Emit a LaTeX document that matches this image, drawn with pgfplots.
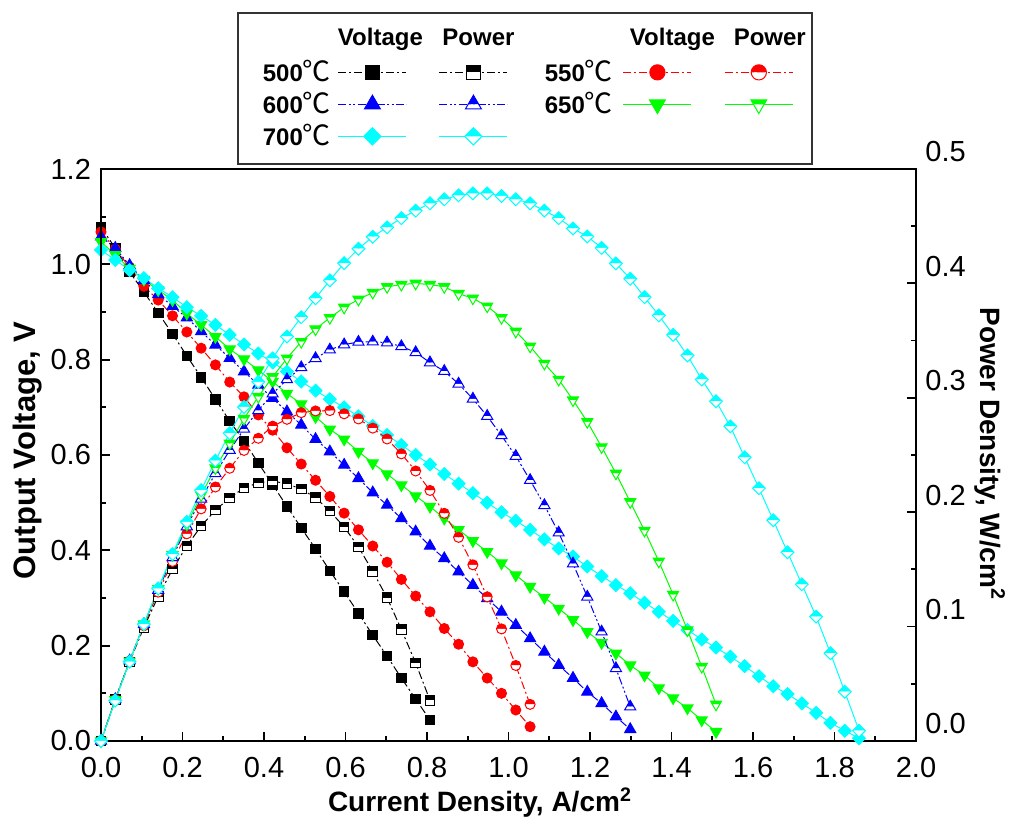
\documentclass[border=0pt]{standalone}
\usepackage{fontspec}
\setmainfont{Liberation Sans}
\newfontfamily\cjk{Noto Sans CJK SC}
\usepackage{pgfplots}
\usepackage{pgfplotstable}
\pgfplotsset{compat=1.18}

\definecolor{cR}{RGB}{255,0,0}
\definecolor{cB}{RGB}{0,0,255}
\definecolor{cG}{RGB}{0,255,0}
\definecolor{cC}{RGB}{0,255,255}

% ---------- marks ----------
\pgfdeclareplotmark{fsq}{%
  \pgfpathrectangle{\pgfqpoint{-\pgfplotmarksize}{-\pgfplotmarksize}}{\pgfqpoint{2\pgfplotmarksize}{2\pgfplotmarksize}}%
  \pgfusepathqfillstroke}
\pgfdeclareplotmark{hsq}{%
  \pgfpathrectangle{\pgfqpoint{-\pgfplotmarksize}{0pt}}{\pgfqpoint{2\pgfplotmarksize}{\pgfplotmarksize}}%
  \pgfusepathqfill
  \begin{pgfscope}\pgfsetfillcolor{white}%
  \pgfpathrectangle{\pgfqpoint{-\pgfplotmarksize}{-\pgfplotmarksize}}{\pgfqpoint{2\pgfplotmarksize}{\pgfplotmarksize}}%
  \pgfusepathqfill\end{pgfscope}%
  \pgfpathrectangle{\pgfqpoint{-\pgfplotmarksize}{-\pgfplotmarksize}}{\pgfqpoint{2\pgfplotmarksize}{2\pgfplotmarksize}}%
  \pgfusepathqstroke}
\pgfdeclareplotmark{hcirc}{%
  \pgfpathmoveto{\pgfqpoint{\pgfplotmarksize}{0pt}}%
  \pgfpatharc{0}{180}{\pgfplotmarksize}\pgfpathclose\pgfusepathqfill
  \begin{pgfscope}\pgfsetfillcolor{white}%
  \pgfpathmoveto{\pgfqpoint{\pgfplotmarksize}{0pt}}%
  \pgfpatharc{0}{-180}{\pgfplotmarksize}\pgfpathclose\pgfusepathqfill\end{pgfscope}%
  \pgfpathcircle{\pgfpointorigin}{\pgfplotmarksize}\pgfusepathqstroke}
\pgfdeclareplotmark{htri}{%
  \pgfpathmoveto{\pgfqpoint{0pt}{\pgfplotmarksize}}%
  \pgfpathlineto{\pgfqpoint{-0.577\pgfplotmarksize}{0pt}}%
  \pgfpathlineto{\pgfqpoint{0.577\pgfplotmarksize}{0pt}}%
  \pgfpathclose\pgfusepathqfill
  \begin{pgfscope}\pgfsetfillcolor{white}%
  \pgfpathmoveto{\pgfqpoint{-0.577\pgfplotmarksize}{0pt}}%
  \pgfpathlineto{\pgfqpoint{0.577\pgfplotmarksize}{0pt}}%
  \pgfpathlineto{\pgfqpoint{0.866\pgfplotmarksize}{-0.5\pgfplotmarksize}}%
  \pgfpathlineto{\pgfqpoint{-0.866\pgfplotmarksize}{-0.5\pgfplotmarksize}}%
  \pgfpathclose\pgfusepathqfill\end{pgfscope}%
  \pgfpathmoveto{\pgfqpoint{0pt}{\pgfplotmarksize}}%
  \pgfpathlineto{\pgfqpoint{-0.866\pgfplotmarksize}{-0.5\pgfplotmarksize}}%
  \pgfpathlineto{\pgfqpoint{0.866\pgfplotmarksize}{-0.5\pgfplotmarksize}}%
  \pgfpathclose\pgfusepathqstroke}
\pgfdeclareplotmark{fdtri}{%
  \pgfpathmoveto{\pgfqpoint{0pt}{-\pgfplotmarksize}}%
  \pgfpathlineto{\pgfqpoint{0.866\pgfplotmarksize}{0.5\pgfplotmarksize}}%
  \pgfpathlineto{\pgfqpoint{-0.866\pgfplotmarksize}{0.5\pgfplotmarksize}}%
  \pgfpathclose\pgfusepathqfillstroke}
\pgfdeclareplotmark{hdtri}{%
  \pgfpathmoveto{\pgfqpoint{-0.866\pgfplotmarksize}{0.5\pgfplotmarksize}}%
  \pgfpathlineto{\pgfqpoint{0.866\pgfplotmarksize}{0.5\pgfplotmarksize}}%
  \pgfpathlineto{\pgfqpoint{0.577\pgfplotmarksize}{0pt}}%
  \pgfpathlineto{\pgfqpoint{-0.577\pgfplotmarksize}{0pt}}%
  \pgfpathclose\pgfusepathqfill
  \begin{pgfscope}\pgfsetfillcolor{white}%
  \pgfpathmoveto{\pgfqpoint{-0.577\pgfplotmarksize}{0pt}}%
  \pgfpathlineto{\pgfqpoint{0.577\pgfplotmarksize}{0pt}}%
  \pgfpathlineto{\pgfqpoint{0pt}{-\pgfplotmarksize}}%
  \pgfpathclose\pgfusepathqfill\end{pgfscope}%
  \pgfpathmoveto{\pgfqpoint{0pt}{-\pgfplotmarksize}}%
  \pgfpathlineto{\pgfqpoint{0.866\pgfplotmarksize}{0.5\pgfplotmarksize}}%
  \pgfpathlineto{\pgfqpoint{-0.866\pgfplotmarksize}{0.5\pgfplotmarksize}}%
  \pgfpathclose\pgfusepathqstroke}
\pgfdeclareplotmark{fdia}{%
  \pgfpathmoveto{\pgfqpoint{0pt}{\pgfplotmarksize}}%
  \pgfpathlineto{\pgfqpoint{\pgfplotmarksize}{0pt}}%
  \pgfpathlineto{\pgfqpoint{0pt}{-\pgfplotmarksize}}%
  \pgfpathlineto{\pgfqpoint{-\pgfplotmarksize}{0pt}}%
  \pgfpathclose\pgfusepathqfillstroke}
\pgfdeclareplotmark{hdia}{%
  \pgfpathmoveto{\pgfqpoint{-\pgfplotmarksize}{0pt}}%
  \pgfpathlineto{\pgfqpoint{0pt}{\pgfplotmarksize}}%
  \pgfpathlineto{\pgfqpoint{\pgfplotmarksize}{0pt}}%
  \pgfpathclose\pgfusepathqfill
  \begin{pgfscope}\pgfsetfillcolor{white}%
  \pgfpathmoveto{\pgfqpoint{-\pgfplotmarksize}{0pt}}%
  \pgfpathlineto{\pgfqpoint{0pt}{-\pgfplotmarksize}}%
  \pgfpathlineto{\pgfqpoint{\pgfplotmarksize}{0pt}}%
  \pgfpathclose\pgfusepathqfill\end{pgfscope}%
  \pgfpathmoveto{\pgfqpoint{0pt}{\pgfplotmarksize}}%
  \pgfpathlineto{\pgfqpoint{\pgfplotmarksize}{0pt}}%
  \pgfpathlineto{\pgfqpoint{0pt}{-\pgfplotmarksize}}%
  \pgfpathlineto{\pgfqpoint{-\pgfplotmarksize}{0pt}}%
  \pgfpathclose\pgfusepathqstroke}

% ---------- data: current density x (A/cm2), voltage V (V), power P (W/cm2) ----------
\pgfplotstableread{
x V P
0 1.078 0
0.0351 1.034 0.0363
0.0702 0.984 0.0692
0.1053 0.942 0.0994
0.1404 0.898 0.1263
0.1755 0.854 0.1502
0.2106 0.808 0.1705
0.2457 0.763 0.1878
0.2808 0.717 0.2018
0.3159 0.671 0.2125
0.3510 0.629 0.2213
0.3861 0.583 0.2256
0.4212 0.538 0.2271
0.4563 0.492 0.2250
0.4914 0.447 0.2201
0.5265 0.403 0.2127
0.5616 0.357 0.2009
0.5967 0.313 0.1871
0.6318 0.268 0.1696
0.6669 0.222 0.1483
0.7020 0.178 0.1252
0.7371 0.132 0.0975
0.7722 0.088 0.0681
0.8073 0.044 0.0356
}\tA
\pgfplotstableread{
x V P
0 1.068 0
0.0351 1.032 0.0363
0.0702 0.994 0.0699
0.1053 0.954 0.1007
0.1404 0.925 0.1301
0.1755 0.892 0.1569
0.2106 0.858 0.1811
0.2457 0.824 0.2029
0.2808 0.789 0.2220
0.3159 0.753 0.2384
0.3510 0.722 0.2540
0.3861 0.684 0.2646
0.4212 0.652 0.2752
0.4563 0.615 0.2812
0.4914 0.581 0.2870
0.5265 0.547 0.2885
0.5616 0.513 0.2888
0.5967 0.478 0.2860
0.6318 0.443 0.2815
0.6669 0.409 0.2735
0.7020 0.375 0.2640
0.7371 0.339 0.2510
0.7722 0.304 0.2360
0.8073 0.271 0.2190
0.8424 0.236 0.1990
0.8775 0.203 0.1780
0.9126 0.166 0.1540
0.9477 0.132 0.1260
0.9828 0.100 0.0980
1.0179 0.065 0.0660
1.0530 0.030 0.0320
}\tB
\pgfplotstableread{
x V P
0 1.058 0
0.0351 1.034 0.0364
0.0702 0.998 0.0702
0.1053 0.967 0.1020
0.1404 0.937 0.1319
0.1755 0.912 0.1604
0.2106 0.888 0.1874
0.2457 0.859 0.2116
0.2808 0.831 0.2339
0.3159 0.803 0.2542
0.3510 0.775 0.2727
0.3861 0.747 0.2890
0.4212 0.719 0.3035
0.4563 0.691 0.3160
0.4914 0.663 0.3265
0.5265 0.633 0.3345
0.5616 0.607 0.3420
0.5967 0.579 0.3465
0.6318 0.551 0.3488
0.6669 0.521 0.3490
0.7020 0.495 0.3482
0.7371 0.467 0.3449
0.7722 0.439 0.3397
0.8073 0.409 0.3308
0.8424 0.383 0.3233
0.8775 0.355 0.3122
0.9126 0.327 0.2991
0.9477 0.299 0.2840
0.9828 0.271 0.2670
1.0179 0.243 0.2490
1.0530 0.215 0.2280
1.0881 0.187 0.2060
1.1232 0.159 0.1820
1.1583 0.132 0.1550
1.1934 0.103 0.1260
1.2285 0.079 0.0955
1.2636 0.051 0.0635
1.2987 0.0245 0.0300
}\tC
\pgfplotstableread{
x V P
0 1.047 0
0.0351 1.020 0.0359
0.0702 0.991 0.0697
0.1053 0.968 0.1021
0.1404 0.946 0.1331
0.1755 0.925 0.1627
0.2106 0.897 0.1893
0.2457 0.873 0.2150
0.2808 0.848 0.2386
0.3159 0.822 0.2602
0.3510 0.801 0.2818
0.3861 0.778 0.3010
0.4212 0.754 0.3183
0.4563 0.729 0.3345
0.4914 0.707 0.3490
0.5265 0.680 0.3600
0.5616 0.654 0.3700
0.5967 0.633 0.3790
0.6318 0.607 0.3860
0.6669 0.583 0.3920
0.7020 0.560 0.3970
0.7371 0.537 0.3990
0.7722 0.514 0.4000
0.8073 0.492 0.3990
0.8424 0.467 0.3970
0.8775 0.443 0.3910
0.9126 0.420 0.3870
0.9477 0.397 0.3800
0.9828 0.373 0.3700
1.0179 0.348 0.3580
1.0530 0.324 0.3450
1.0881 0.301 0.3300
1.1232 0.278 0.3160
1.1583 0.254 0.2980
1.1934 0.229 0.2790
1.2285 0.206 0.2570
1.2636 0.184 0.2340
1.2987 0.159 0.2090
1.3338 0.138 0.1840
1.3689 0.111 0.1570
1.4040 0.090 0.1280
1.4391 0.069 0.0970
1.4742 0.044 0.0650
1.5093 0.0195 0.0320
}\tD
\pgfplotstableread{
x V P
0 1.030 0
0.0351 1.009 0.0354
0.0702 0.988 0.0694
0.1053 0.971 0.1022
0.1404 0.950 0.1334
0.1755 0.931 0.1634
0.2106 0.910 0.1916
0.2457 0.892 0.2192
0.2808 0.873 0.2451
0.3159 0.852 0.2691
0.3510 0.832 0.2920
0.3861 0.813 0.3139
0.4212 0.794 0.3344
0.4563 0.775 0.3536
0.4914 0.754 0.3705
0.5265 0.735 0.3870
0.5616 0.717 0.4027
0.5967 0.700 0.4177
0.6318 0.681 0.4303
0.6669 0.661 0.4408
0.7020 0.642 0.4490
0.7371 0.621 0.4570
0.7722 0.600 0.4636
0.8073 0.580 0.4700
0.8424 0.560 0.4735
0.8775 0.540 0.4770
0.9126 0.520 0.4787
0.9477 0.500 0.4787
0.9828 0.480 0.4764
1.0179 0.462 0.4735
1.0530 0.443 0.4700
1.0881 0.423 0.4636
1.1232 0.404 0.4570
1.1583 0.387 0.4480
1.1934 0.366 0.4410
1.2285 0.346 0.4310
1.2636 0.327 0.4175
1.2987 0.310 0.4040
1.3338 0.290 0.3880
1.3689 0.271 0.3720
1.4040 0.252 0.3550
1.4391 0.233 0.3370
1.4742 0.213 0.3160
1.5093 0.196 0.2970
1.5444 0.177 0.2750
1.5795 0.157 0.2480
1.6146 0.136 0.2210
1.6497 0.115 0.1930
1.6848 0.0986 0.1650
1.7199 0.079 0.1370
1.7550 0.059 0.1087
1.7901 0.038 0.0767
1.8252 0.0216 0.0431
1.8603 0.0057 0.0090
}\tE

\pgfplotsset{
  /pgf/number format/assume math mode=true,
  s500/.style={black, line width=0.5pt, dash pattern=on 4pt off 1.5pt on 1pt off 1.5pt,
    mark size=2.4pt, mark options={solid, fill=black, line width=0.5pt}},
  s550/.style={cR, line width=0.5pt, dash pattern=on 4pt off 1.5pt on 1pt off 1.5pt,
    mark size=2.5pt, mark options={solid, fill=cR, line width=0.5pt}},
  s600/.style={cB, line width=0.5pt, dash pattern=on 4pt off 1.2pt on 1pt off 1.2pt on 1pt off 1.2pt,
    mark size=3.2pt, mark options={solid, fill=cB, line width=0.5pt}},
  s650/.style={cG, line width=0.5pt, solid,
    mark size=3.2pt, mark options={solid, fill=cG, line width=0.5pt}},
  s700/.style={cC, line width=0.5pt, solid,
    mark size=3.2pt, mark options={solid, fill=cC, line width=0.5pt}},
  legend image code/.code={%
    \draw[mark repeat=2,mark phase=2,#1] plot coordinates {(0pt,0pt) (17pt,0pt) (34pt,0pt)};},
  common/.style={
    scale only axis, width=407.5pt, height=286pt,
    xmin=0, xmax=2, clip=false,
    tick align=inside,
    major tick length=4.5pt, minor tick length=2.5pt,
    axis line style={line width=1pt},
    every tick/.style={black, line width=0.9pt},
    tick label style={font=\fontsize{14.5}{16}\selectfont},
    label style={font=\fontsize{14}{16}\selectfont\bfseries},
    yticklabel style={/pgf/number format/fixed, /pgf/number format/fixed zerofill, /pgf/number format/precision=1},
    xticklabel style={/pgf/number format/fixed, /pgf/number format/fixed zerofill, /pgf/number format/precision=1},
  },
}
\newcommand{\hdr}[2]{\addlegendimage{legend image code/.code={\node[overlay,inner sep=0pt,anchor=center] at (#1,1pt) {#2};}}}
\newcommand{\gap}{\makebox[16pt]{}}
\newcommand{\degc}{{\cjk\mdseries\fontsize{14}{14}\selectfont ℃}}
\newcommand{\tl}[1]{\makebox[50pt][r]{#1\degc\kern3.5pt}}
\newcommand{\tr}[1]{\makebox[57.5pt][r]{#1\degc\kern5pt}}

\begin{document}
\begin{tikzpicture}
\begin{axis}[common,
  ymin=0, ymax=1.2,
  xtick={0,0.2,0.4,0.6,0.8,1.0,1.2,1.4,1.6,1.8,2.0}, minor x tick num=1,
  ytick={0,0.2,0.4,0.6,0.8,1.0,1.2}, minor y tick num=1,
  xtick pos=left, ytick pos=left,
  xticklabel style={yshift=-4.5pt},
  yticklabel style={xshift=-1.5pt},
  xlabel={Current Density, A/cm\textsuperscript{2}},
  ylabel={Output Voltage, V},
  xlabel style={at={(axis description cs:0.465,-0.108)}, anchor=center},
  ylabel style={at={(axis description cs:-0.0896,0.508)}, anchor=center, font=\fontsize{15.5}{17}\selectfont\bfseries},
  legend plot pos=right,
  legend columns=4,
  legend cell align=left,
  legend style={at={(axis description cs:0.1669,1.2745)}, anchor=north west,
    draw=black!80, line width=0.9pt, fill=white,
    inner xsep=0pt, inner ysep=5.75pt, column sep=0pt, row sep=0pt,
    font=\fontsize{12}{14}\selectfont\bfseries,
    nodes={inner sep=0pt, minimum height=16pt, anchor=west},
  },
]
\coordinate (O) at (rel axis cs:0,0);
\addplot[s500, mark=fsq, forget plot] table[x=x,y=V]{\tA};
\addplot[s550, mark=*, forget plot] table[x=x,y=V]{\tB};
\addplot[s600, mark=triangle*, forget plot] table[x=x,y=V]{\tC};
\addplot[s650, mark=fdtri, forget plot] table[x=x,y=V]{\tD};
\addplot[s700, mark=fdia, forget plot] table[x=x,y=V]{\tE};
% legend: header row
\hdr{21pt}{Voltage}\addlegendentry{\makebox[50pt]{}}
\hdr{19.5pt}{Power}\addlegendentry{\gap}
\hdr{24.5pt}{Voltage}\addlegendentry{\makebox[57.5pt]{}}
\addlegendimage{legend image code/.code={\node[overlay,inner sep=0pt,anchor=center] at (22.5pt,1pt) {Power};\path (0pt,0pt) (43pt,0pt);}}\addlegendentry{\gap}
% row 500 / 550
\addlegendimage{s500, mark=fsq, mark size=3.6pt}\addlegendentry{\tl{500}}
\addlegendimage{s500, mark=hsq, mark size=3.6pt}\addlegendentry{\gap}
\addlegendimage{s550, mark=*, mark size=3.8pt}\addlegendentry{\tr{550}}
\addlegendimage{s550, mark=hcirc, mark size=3.8pt}\addlegendentry{\gap}
% row 600 / 650
\addlegendimage{s600, mark=triangle*, mark size=4.6pt}\addlegendentry{\tl{600}}
\addlegendimage{s600, mark=htri, mark size=4.6pt}\addlegendentry{\gap}
\addlegendimage{s650, mark=fdtri, mark size=4.6pt}\addlegendentry{\tr{650}}
\addlegendimage{s650, mark=hdtri, mark size=4.6pt}\addlegendentry{\gap}
% row 700
\addlegendimage{s700, mark=fdia, mark size=4.3pt}\addlegendentry{\tl{700}}
\addlegendimage{s700, mark=hdia, mark size=4.3pt}\addlegendentry{\gap}
\end{axis}

\begin{axis}[common,
  ymin=0, ymax=0.5,
  hide x axis,
  ytick={0,0.1,0.2,0.3,0.4,0.5}, minor y tick num=1,
  ytick pos=right, yticklabel pos=right,
  yticklabel style={xshift=1.2pt, yshift=8.5pt},
  ylabel={Power Density, W/cm\textsuperscript{2}},
  ylabel style={at={(axis description cs:1.0908,0.502)}, anchor=center, rotate=180},
]
\addplot[s500, mark=hsq] table[x=x,y=P]{\tA};
\addplot[s550, mark=hcirc] table[x=x,y=P]{\tB};
\addplot[s600, mark=htri] table[x=x,y=P]{\tC};
\addplot[s650, mark=hdtri] table[x=x,y=P]{\tD};
\addplot[s700, mark=hdia] table[x=x,y=P]{\tE};
\end{axis}
\pgfresetboundingbox
\path[use as bounding box] (O) ++(-50.5pt,-43.5pt) rectangle ++(512pt,414pt);
\end{tikzpicture}
\end{document}
